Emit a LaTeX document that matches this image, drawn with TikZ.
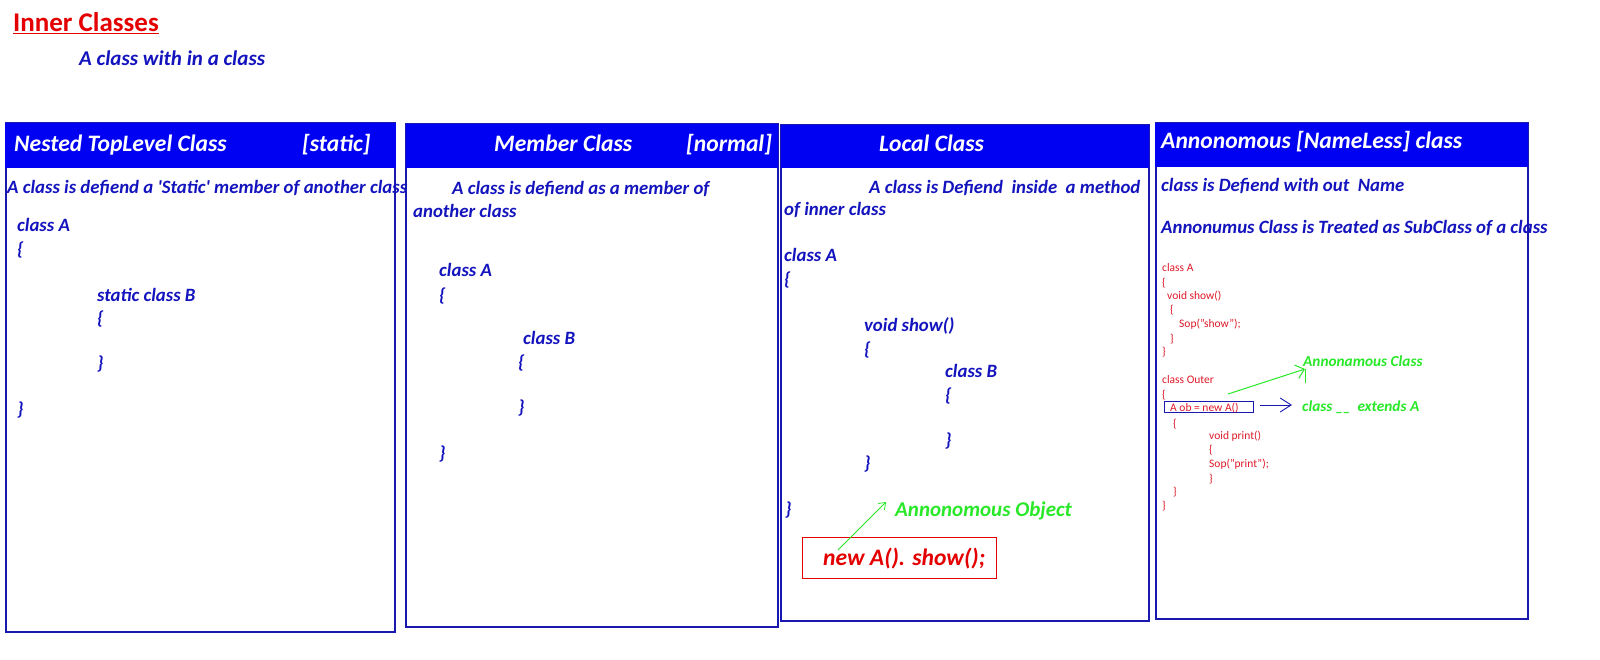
\documentclass[tikz,border=0pt]{standalone}
\usepackage{fontspec}
\setmainfont{Carlito}
\usetikzlibrary{arrows.meta}
\definecolor{hdrblue}{RGB}{0,0,242}
\definecolor{linblue}{RGB}{25,25,175}
\definecolor{txtblue}{RGB}{20,20,190}
\definecolor{tred}{RGB}{228,0,0}
\definecolor{cred}{RGB}{222,25,40}
\definecolor{tgreen}{RGB}{40,232,40}
\tikzset{
  panel/.style={draw=linblue, line width=1.3pt},
  hdr/.style={fill=hdrblue, draw=none},
  txt/.style={anchor=west, inner sep=0pt, text height=0.68em, text depth=0pt, yshift=-3.2pt},
  hdrtxt/.style={txt, text=white, font=\fontsize{23.6}{28}\selectfont\bfseries\itshape},
  body/.style={txt, text=txtblue, font=\fontsize{18.8}{22}\selectfont\bfseries\itshape},
  ttl/.style={txt, text=tred, font=\fontsize{27}{32}\selectfont\bfseries},
  sub/.style={txt, text=txtblue, font=\fontsize{21}{25}\selectfont\bfseries\itshape},
  code/.style={txt, text=cred, font=\fontsize{11.5}{13}\selectfont, yshift=1.5pt},
  gbig/.style={txt, text=tgreen, font=\fontsize{21}{25}\selectfont\bfseries\itshape},
  gsmall/.style={txt, text=tgreen, font=\fontsize{15.3}{18}\selectfont\bfseries\itshape},
  redbig/.style={txt, text=tred, font=\fontsize{23.6}{28}\selectfont\bfseries\itshape},
  garrow/.style={draw=tgreen, line width=0.8pt, -{Straight Barb[length=6pt,width=9pt]}},
}
\begin{document}
\begin{tikzpicture}[x=1pt,y=-1pt]
\useasboundingbox (0,0) rectangle (1600,660);
\fill[white] (0,0) rectangle (1600,660);

% title
\node[ttl] (title) at (13,25) {\underline{Inner Classes}};
\node[sub] (subtitle) at (79,59) {A class with in a class};

% panels
\draw[panel] (6,123) rectangle (395,632);
\fill[hdr] (5,123) rectangle (396,168);
\draw[panel] (406,124) rectangle (778,627);
\fill[hdr] (406,124) rectangle (778,168);
\draw[panel] (781,125) rectangle (1149,621);
\fill[hdr] (781,125) rectangle (1149,168);
\draw[panel] (1156,123) rectangle (1528,619);
\fill[hdr] (1155,123) rectangle (1528,167);

% panel 1
\node[hdrtxt] (h1a) at (14,145) {Nested TopLevel Class};
\node[hdrtxt] (h1b) at (302,145) {[static]};
\node[body] (a1) at (7,187) {A class is defiend a \textquotesingle Static\textquotesingle\ member of another class};
\node[body] (a2) at (17,225) {class A};
\node[body] (a3) at (17,249) {\{};
\node[body] (a4) at (97,295) {static class B};
\node[body] (a5) at (97,318) {\{};
\node[body] (a6) at (97,363) {\}};
\node[body] (a7) at (17,409) {\}};

% panel 2
\node[hdrtxt] (h2a) at (494,145) {Member Class};
\node[hdrtxt] (h2b) at (686,145) {[normal]};
\node[body] (b1) at (452,188) {A class is defiend as a member of};
\node[body] (b2) at (413,211) {another class};
\node[body] (b3) at (439,270) {class A};
\node[body] (b4) at (439,295) {\{};
\node[body] (b5) at (523,338) {class B};
\node[body] (b6) at (518,362) {\{};
\node[body] (b7) at (518,407) {\}};
\node[body] (b8) at (439,453) {\}};

% panel 3
\node[hdrtxt] (h3) at (879,145) {Local Class};
\node[body] (c1) at (869,187) {A class is Defiend~ inside~ a method};
\node[body] (c2) at (784,209) {of inner class};
\node[body] (c3) at (784,255) {class A};
\node[body] (c4) at (784,279) {\{};
\node[body] (c5) at (864,325) {void show()};
\node[body] (c6) at (864,349) {\{};
\node[body] (c7) at (945,371) {class B};
\node[body] (c8) at (945,395) {\{};
\node[body] (c9) at (945,440) {\}};
\node[body] (c10) at (864,463) {\}};
\node[body] (c11) at (785,509) {\}};
\node[gbig] (anobj) at (895,510) {Annonomous Object};
\node[draw=tred, line width=0.9pt, minimum width=194pt, minimum height=41pt, inner sep=0pt] (newbox) at (899,558) {};
\node[redbig] (newa) at (823,559) {new A(). show();};
\coordinate (arrs) at (838,550);
\coordinate (arre) at (886,502);
\draw[garrow] (arrs) -- (arre);

% panel 4
\node[hdrtxt] (h4) at (1161,142) {Annonomous [NameLess] class};
\node[body] (d1) at (1161,185) {class is Defiend with out~ Name};
\node[body] (d2) at (1161,227) {Annonumus Class is Treated as SubClass of a class};
\node[code] (e1) at (1162,266) {class A};
\node[code] (e2) at (1162,281) {\{};
\node[code] (e3) at (1167,294) {void show()};
\node[code] (e4) at (1170,308) {\{};
\node[code] (e5) at (1179,322) {Sop("show");};
\node[code] (e6) at (1170,337) {\}};
\node[code] (e7) at (1162,350) {\}};
\node[code] (e8) at (1162,378) {class Outer};
\node[code] (e9) at (1162,393) {\{};
\node[draw=linblue, line width=0.9pt, minimum width=89pt, minimum height=11pt, inner sep=0pt] (obbox) at (1208.5,406.5) {};
\node[code] (e10) at (1170,406) {A ob = new A()};
\node[code] (e11) at (1173,422) {\{};
\node[code] (e12) at (1209,434) {void print()};
\node[code] (e13) at (1209,448) {\{};
\node[code] (e14) at (1209,462) {Sop("print");};
\node[code] (e15) at (1209,477) {\}};
\node[code] (e16) at (1173,490) {\}};
\node[code] (e17) at (1162,504) {\}};
\node[gsmall] (ancls) at (1303,360) {Annonamous Class};
\node[gsmall] (ext) at (1302,405) {class \textunderscore\kern-0.5pt\textunderscore~ extends A};
\coordinate (g1) at (1228,394);
\coordinate (g2) at (1305,369);
\coordinate (g3) at (1305,383);
\draw[draw=tgreen, line width=1pt, -{Straight Barb[length=8pt,width=14pt]}] (g1) -- (g2);
\draw[draw=tgreen, line width=1pt] (g3) -- (g2);
\coordinate (bl1) at (1260,405);
\coordinate (bl2) at (1292,405);
\draw[draw=linblue, line width=0.9pt, -{Straight Barb[length=11pt,width=14pt]}] (bl1) -- (bl2);
\end{tikzpicture}
\end{document}
